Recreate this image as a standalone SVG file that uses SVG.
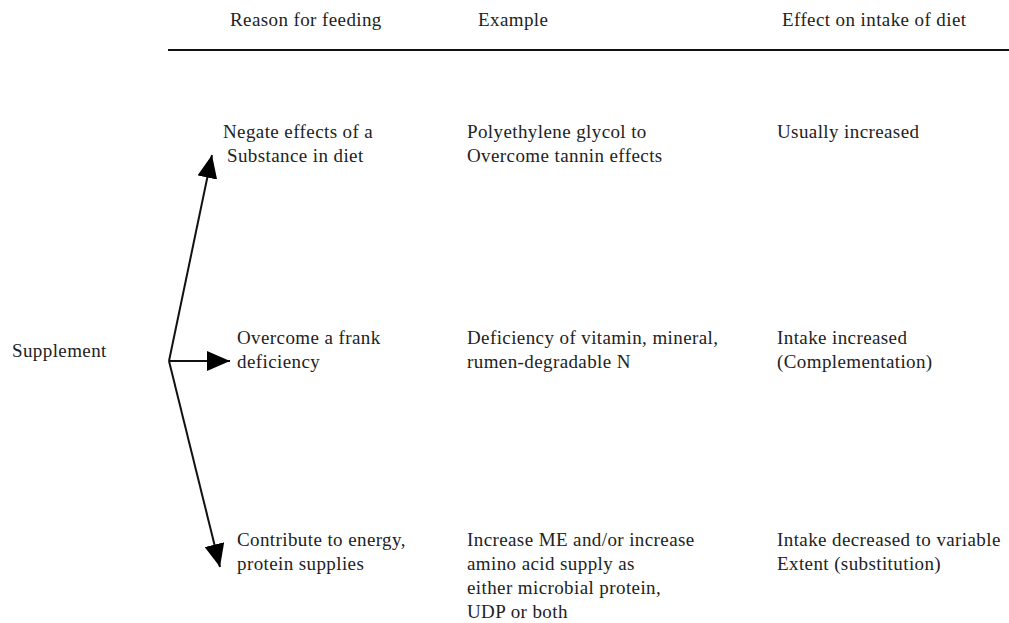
<svg xmlns="http://www.w3.org/2000/svg" width="1009" height="623" viewBox="0 0 1009 623">
<style>
text{font-family:"Liberation Serif","Times New Roman",serif;font-size:19px;fill:#222;letter-spacing:0.4px}
.conn{stroke:#111;stroke-width:2;fill:none}
</style>
<defs>
<marker id="ah" markerUnits="userSpaceOnUse" markerWidth="24" markerHeight="20" refX="23" refY="10" orient="auto" viewBox="0 0 24 20">
<path d="M0,0 L23,10 L0,20 z" fill="#000"/>
</marker>
</defs>
<rect width="1009" height="623" fill="#fff"/>
<g id="header">
<text x="230" y="26">Reason for feeding</text>
<text x="478" y="26">Example</text>
<text x="782" y="26">Effect on intake of diet</text>
<line x1="168" y1="50" x2="1009" y2="50" stroke="#111" stroke-width="2"/>
</g>
<g id="supplement"><text x="12" y="357">Supplement</text></g>
<g id="connectors">
<line class="conn" x1="169" y1="361" x2="212" y2="155" marker-end="url(#ah)"/>
<line class="conn" x1="169" y1="361" x2="230" y2="361" marker-end="url(#ah)"/>
<line class="conn" x1="169" y1="361" x2="220" y2="567" marker-end="url(#ah)"/>
</g>
<g id="reason-negate">
<text x="223" y="138">Negate effects of a</text>
<text x="227" y="162">Substance in diet</text>
</g>
<g id="reason-overcome">
<text x="237" y="344">Overcome a frank</text>
<text x="237" y="368">deficiency</text>
</g>
<g id="reason-contribute">
<text x="237" y="546">Contribute to energy,</text>
<text x="237" y="570">protein supplies</text>
</g>
<g id="example-1">
<text x="467" y="138">Polyethylene glycol to</text>
<text x="467" y="162">Overcome tannin effects</text>
</g>
<g id="example-2">
<text x="467" y="344">Deficiency of vitamin, mineral,</text>
<text x="467" y="368">rumen-degradable N</text>
</g>
<g id="example-3">
<text x="467" y="546">Increase ME and/or increase</text>
<text x="467" y="570">amino acid supply as</text>
<text x="467" y="594">either microbial protein,</text>
<text x="467" y="618">UDP or both</text>
</g>
<g id="effect-1"><text x="777" y="138">Usually increased</text></g>
<g id="effect-2">
<text x="777" y="344">Intake increased</text>
<text x="777" y="368">(Complementation)</text>
</g>
<g id="effect-3">
<text x="777" y="546">Intake decreased to variable</text>
<text x="777" y="570">Extent (substitution)</text>
</g>
</svg>
